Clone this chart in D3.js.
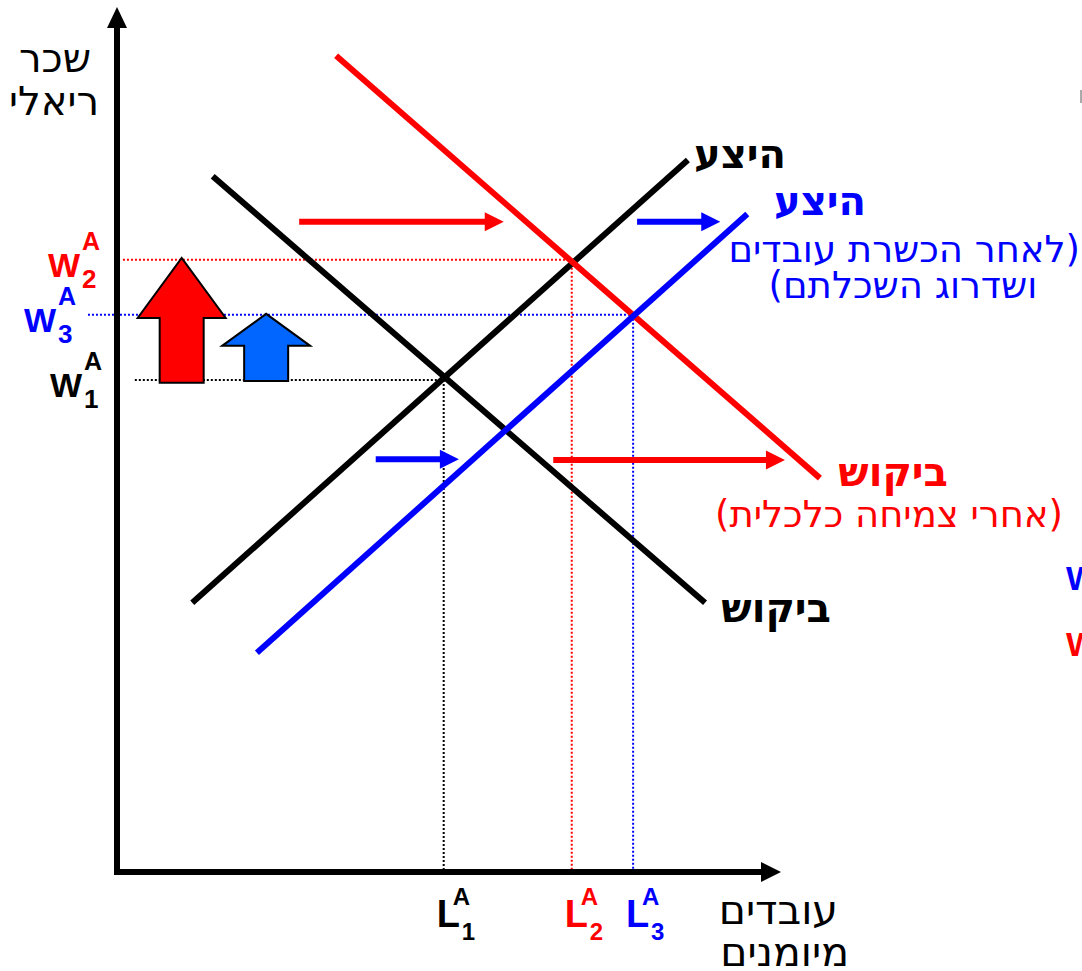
<!DOCTYPE html>
<html lang="he">
<head>
<meta charset="utf-8">
<title>Skilled labour market</title>
<script src="https://d3js.org/d3.v7.min.js"></script>
<style>
  body { margin: 0; background: #fff; }
  text { font-family: "DejaVu Sans", sans-serif; }
  .lat { font-family: "Liberation Sans", Arial, sans-serif; font-weight: bold; }
  .paren { direction: ltr; unicode-bidi: bidi-override; }
</style>
</head>
<body>
<svg width="1082" height="971"></svg>
<script>
// curve endpoints, in chart units (x = workers, y = real wage)
const demandBefore = [[14.5, 80.9], [89.1, 31.3]];
const supplyBefore = [[11.4, 31.3], [86.5, 82.8]];
const demandAfter  = [[33.2, 94.9], [106.5, 45.8]];
const supplyAfter  = [[21.2, 25.5], [95.5, 76.5]];

// equilibria: 1 = before, 2 = demand shift, 3 = supply shift too
const eqNames = ["1", "2", "3"];
const eqL = [49.5, 68.9, 78.2];
const eqW = [57.2, 71.2, 64.8];
const guideStart = [2.7, 0.9, -4.4];

// horizontal shift arrows
const shiftFrom = [27.6, 66.1, 78.8, 39.2];
const shiftTo   = [58.6, 101.2, 91.4, 51.8];
const shiftAt   = [75.6, 47.9, 75.6, 48.0];
const shiftKind = ["red", "red", "blue", "blue"];

// wage rise block arrows
const riseX    = [9.8, 22.6];
const riseFrom = [56.9, 57.1];
const riseTo   = [71.4, 64.9];

const RED = "#ff0000", BLUE = "#0000ff", BLACK = "#000000";
const eqColor = [BLACK, RED, BLUE];

var svg = d3.select("svg");
var x = d3.scaleLinear().domain([0, 100]).range([117, 777]);
var y = d3.scaleLinear().domain([0, 100]).range([872, 12]);

// dotted guides
eqNames.forEach(function(n, i){
  svg.append("line")
    .attr("x1", x(guideStart[i])).attr("x2", x(eqL[i]))
    .attr("y1", y(eqW[i])).attr("y2", y(eqW[i]))
    .attr("stroke", eqColor[i]).attr("stroke-width", 2).attr("stroke-dasharray", "2,2")
  svg.append("line")
    .attr("x1", x(eqL[i])).attr("x2", x(eqL[i]))
    .attr("y1", y(eqW[i])).attr("y2", y(0))
    .attr("stroke", eqColor[i]).attr("stroke-width", 2).attr("stroke-dasharray", "2,2")
})

// curves
var line = d3.line().x(d => x(d[0])).y(d => y(d[1]))
var curves = [[demandBefore, BLACK], [supplyBefore, BLACK], [demandAfter, RED], [supplyAfter, BLUE]]
curves.forEach(function(c){
  svg.append("path").attr("d", line(c[0])).attr("fill", "none")
    .attr("stroke", c[1]).attr("stroke-width", 6)
})

// shift arrows
shiftFrom.forEach(function(f, i){
  var col = shiftKind[i] == "red" ? RED : BLUE
  var x0 = x(f), x1 = x(shiftTo[i]), yy = y(shiftAt[i])
  svg.append("line").attr("x1", x0).attr("x2", x1 - 16).attr("y1", yy).attr("y2", yy)
    .attr("stroke", col).attr("stroke-width", 6)
  svg.append("path")
    .attr("d", "M" + x1 + "," + yy + "L" + (x1 - 19) + "," + (yy - 9.5) + "L" + (x1 - 19) + "," + (yy + 9.5) + "Z")
    .attr("fill", col)
})

// wage rise block arrows
var riseStyle = [{fill: "#ff0000", head: 60}, {fill: "#0066ff", head: 32}]
riseX.forEach(function(v, i){
  var cx = x(v), b = y(riseFrom[i]), t = y(riseTo[i]), h = riseStyle[i].head
  var pts = [[cx - 22, b], [cx - 22, t + h], [cx - 44, t + h], [cx, t], [cx + 44, t + h], [cx + 22, t + h], [cx + 22, b]]
  svg.append("path").attr("d", "M" + pts.join("L") + "Z")
    .attr("fill", riseStyle[i].fill).attr("stroke", "#000").attr("stroke-width", 2)
})

// axes
svg.append("line").attr("x1", x(0)).attr("x2", x(0)).attr("y1", y(0) + 3).attr("y2", 24)
  .attr("stroke", "#000").attr("stroke-width", 6)
svg.append("path").attr("d", "M117,7L107,28L127,28Z").attr("fill", "#000")
svg.append("line").attr("x1", x(0) - 3).attr("x2", 765).attr("y1", y(0)).attr("y2", y(0))
  .attr("stroke", "#000").attr("stroke-width", 6)
svg.append("path").attr("d", "M781,872L761,862L761,882Z").attr("fill", "#000")

function heb(t, xx, yy, size, col, weight, anchor){
  return svg.append("text").text(t).attr("x", xx).attr("y", yy)
    .attr("font-size", size).attr("fill", col).attr("font-weight", weight || "normal")
    .attr("text-anchor", anchor || "end")
}

// hebrew text with brackets drawn as their own glyphs, so bidi can't flip them
// xx is the right edge ("end") or centre ("middle") of the whole label
function bracketed(t, left, right, xx, yy, size, col, mode){
  var g = svg.append("g").attr("fill", col).attr("font-size", size)
  var lt = g.append("text").attr("class", "paren").attr("y", yy).text(left)
  var mt = g.append("text").attr("y", yy).text(t)
  var rt = g.append("text").attr("class", "paren").attr("y", yy).text(right)
  var wl = left ? lt.node().getComputedTextLength() : 0
  var wm = mt.node().getComputedTextLength()
  var wr = right ? rt.node().getComputedTextLength() : 0
  var total = wl + wm + wr
  var x0 = mode == "middle" ? xx - total / 2 : xx - total
  lt.attr("x", x0)
  mt.attr("x", x0 + wl)
  rt.attr("x", x0 + wl + wm)
}

// axis titles
heb("שכר", 91, 72, 40, BLACK)
heb("ריאלי", 99, 115, 40, BLACK)
heb("עובדים", 838, 924, 41, BLACK)
heb("מיומנים", 849, 966, 41, BLACK)

// curve labels
heb("היצע", 786, 168, 40, BLACK, "bold")
heb("היצע", 866, 215, 40, BLUE, "bold")
bracketed("לאחר הכשרת עובדים", "", ")", 1080, 262, 37, BLUE, "end")
bracketed("ושדרוג השכלתם", "(", "", 903, 298, 37, BLUE, "middle")
heb("ביקוש", 948, 486, 40, RED, "bold")
bracketed("אחרי צמיחה כלכלית", "(", ")", 1063, 527, 37, RED, "end")
heb("ביקוש", 831, 622, 40, BLACK, "bold")

// W labels on the wage axis
var wRight = [82, 80, 56]
eqNames.forEach(function(n, i){
  var yy = y(eqW[i])
  var g = svg.append("g").attr("fill", eqColor[i])
  g.append("text").attr("class", "lat").attr("x", wRight[i]).attr("y", yy + 17).attr("text-anchor", "end")
    .attr("font-size", 34).text("W")
  g.append("text").attr("class", "lat").attr("x", wRight[i] + 2).attr("y", yy - 10)
    .attr("font-size", 25).text("A")
  g.append("text").attr("class", "lat").attr("x", wRight[i] + 2).attr("y", yy + 28)
    .attr("font-size", 26).text(n)
})

// L labels under the labour axis
eqNames.forEach(function(n, i){
  var lx = x(eqL[i]) - 7
  var g = svg.append("g").attr("fill", eqColor[i])
  g.append("text").attr("class", "lat").attr("x", lx).attr("y", 927).attr("font-size", 38).text("L")
  g.append("text").attr("class", "lat").attr("x", lx + 16).attr("y", 905).attr("font-size", 24).text("A")
  g.append("text").attr("class", "lat").attr("x", lx + 25).attr("y", 940).attr("font-size", 24).text(n)
})

// labels cut off at the right edge
svg.append("text").attr("class", "lat").attr("x", 1066).attr("y", 590).attr("font-size", 34)
  .attr("fill", BLUE).text("W")
svg.append("text").attr("class", "lat").attr("x", 1066).attr("y", 656).attr("font-size", 34)
  .attr("fill", RED).text("W")
svg.append("rect").attr("x", 1080).attr("y", 90).attr("width", 2).attr("height", 13).attr("fill", "#aaa")
</script>
</body>
</html>
